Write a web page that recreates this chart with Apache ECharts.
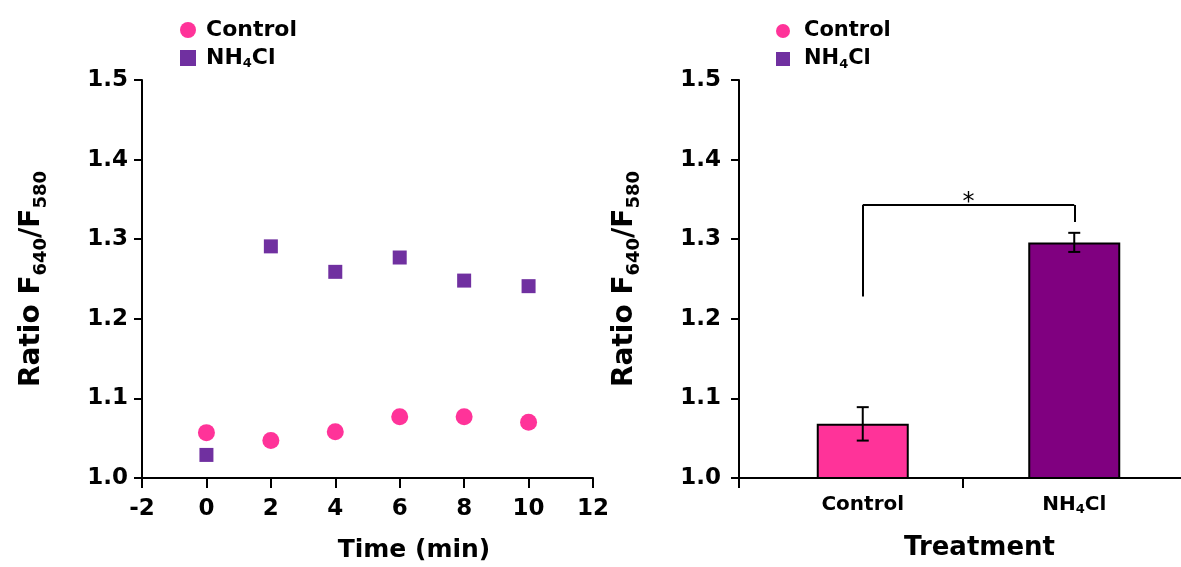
<!DOCTYPE html>
<html>
<head>
<meta charset="utf-8">
<script src="https://cdn.jsdelivr.net/npm/echarts@6/dist/echarts.min.js"></script>
<style>
    html, body { margin: 0; padding: 0; background: #fff; }
    #chart { width: 1181px; height: 567px; }
</style>
</head>
<body>
<div id="chart"></div>
<script>
    // left panel: ratio over time
    var timePoints = [0, 2, 4, 6, 8, 10];
    var controlTime = [1.057, 1.047, 1.058, 1.077, 1.077, 1.070];
    var nh4clTime = [1.029, 1.291, 1.259, 1.277, 1.248, 1.241];
    var xTicks = [-2, 12, 2];   // min, max, step
    var yTicks = [1.0, 1.5, 0.1];

    // right panel: treatment means with error
    var treatments = ['Control', 'NH4Cl'];
    var treatMeans = [1.068, 1.296];
    var treatErr = [0.021, 0.012];
    // significance bracket: left foot, top, right foot
    var bracketY = [1.228, 1.343, 1.3215];

    var FONT = 'DejaVu Sans';
    var PINK = '#FF3399';
    var PURPLE = '#7030A0';
    var BAR_PURPLE = '#800080';

    var yName = 'Ratio F{sub|640}/F{sub|580}';

    function nameFmt(name) {
        return name === 'NH4Cl' ? 'NH{sub|4}Cl' : name;
    }

    function pair(xs, ys) {
        return xs.map(function (x, i) { return [x, ys[i]]; });
    }

    var chart = echarts.init(document.getElementById('chart'));

    var yAxisBase = {
        type: 'value',
        min: yTicks[0],
        max: yTicks[1],
        interval: yTicks[2],
        splitLine: { show: false },
        axisLine: { show: true, onZero: false, lineStyle: { color: '#000', width: 2 } },
        axisTick: { show: true, length: 8, lineStyle: { color: '#000', width: 2 } },
        axisLabel: {
            color: '#000', fontFamily: FONT, fontWeight: 'bold', fontSize: 23,
            formatter: function (v) { return v.toFixed(1); }
        },
        name: yName,
        nameLocation: 'middle',
        nameTextStyle: {
            color: '#000', fontFamily: FONT, fontWeight: 'bold', fontSize: 28,
            rich: {
                sub: { fontFamily: FONT, fontWeight: 'bold', fontSize: 18, color: '#000', verticalAlign: 'bottom', padding: [18, 0, 0, 0] }
            }
        }
    };

    var legendBase = {
        orient: 'vertical',
        itemGap: 4,
        formatter: nameFmt,
        selectedMode: false,
        textStyle: {
            color: '#000', fontFamily: FONT, fontWeight: 'bold', fontSize: 22, lineHeight: 24,
            rich: {
                sub: { fontFamily: FONT, fontWeight: 'bold', fontSize: 13, color: '#000', verticalAlign: 'bottom', padding: [10, 0, 0, 0] }
            }
        }
    };

    var option = {
        animation: false,
        backgroundColor: '#fff',
        legend: [
            Object.assign({}, legendBase, {
                left: 175, top: 13, itemWidth: 16, itemHeight: 16,
                data: [{ name: 'Control', icon: 'circle' }, { name: 'NH4Cl', icon: 'rect' }],
                textStyle: Object.assign({}, legendBase.textStyle, { padding: [0, 0, 0, 5] })
            }),
            Object.assign({}, legendBase, {
                left: 771, top: 14, itemWidth: 14, itemHeight: 14,
                data: [{ name: 'Control', icon: 'circle' }, { name: 'NH4Cl', icon: 'rect' }],
                textStyle: Object.assign({}, legendBase.textStyle, { fontSize: 21, padding: [0, 0, 0, 9] })
            })
        ],
        grid: [
            { left: 142, width: 451, top: 80, bottom: 89, outerBoundsMode: 'none' },
            { left: 739, width: 447, top: 80, bottom: 89, outerBoundsMode: 'none' },
            { left: 757, width: 423, top: 80, bottom: 89, outerBoundsMode: 'none' }
        ],
        xAxis: [
            {
                gridIndex: 0,
                type: 'value',
                min: xTicks[0],
                max: xTicks[1],
                interval: xTicks[2],
                splitLine: { show: false },
                axisLine: { show: true, onZero: false, lineStyle: { color: '#000', width: 2 } },
                axisTick: { show: true, length: 10, lineStyle: { color: '#000', width: 2 } },
                axisLabel: { color: '#000', fontFamily: FONT, fontWeight: 'bold', fontSize: 23, margin: 20 },
                name: 'Time (min)',
                nameLocation: 'middle',
                nameGap: 60,
                nameTextStyle: {
                    color: '#000', fontFamily: FONT, fontWeight: 'bold', fontSize: 25,
                    padding: [0, 0, 0, 93]
                }
            },
            {
                gridIndex: 1,
                type: 'category',
                data: treatments,
                axisLine: { show: true, onZero: false, lineStyle: { color: '#000', width: 2 } },
                axisTick: { show: true, length: 10, lineStyle: { color: '#000', width: 2 } },
                axisLabel: { show: false }
            },
            {
                gridIndex: 2,
                type: 'category',
                data: treatments,
                axisLine: { show: false },
                axisTick: { show: false },
                axisLabel: {
                    color: '#000', fontFamily: FONT, fontWeight: 'bold', fontSize: 20, margin: 16,
                    lineHeight: 22,
                    formatter: nameFmt,
                    rich: {
                        sub: { fontFamily: FONT, fontWeight: 'bold', fontSize: 13, color: '#000', lineHeight: 22, verticalAlign: 'bottom', padding: [6, 0, 0, 0] }
                    }
                },
                name: 'Treatment',
                nameLocation: 'middle',
                nameGap: 57,
                nameTextStyle: {
                    color: '#000', fontFamily: FONT, fontWeight: 'bold', fontSize: 26,
                    padding: [0, 0, 0, 22]
                }
            }
        ],
        yAxis: [
            Object.assign({}, yAxisBase, {
                gridIndex: 0, nameGap: 92,
                axisLabel: Object.assign({}, yAxisBase.axisLabel, { margin: 14 })
            }),
            Object.assign({}, yAxisBase, {
                gridIndex: 1, nameGap: 96,
                axisLabel: Object.assign({}, yAxisBase.axisLabel, { margin: 18 })
            }),
            { gridIndex: 2, type: 'value', min: yTicks[0], max: yTicks[1], show: false, splitLine: { show: false } }
        ],
        series: [
            {
                name: 'Control',
                type: 'scatter',
                xAxisIndex: 0, yAxisIndex: 0,
                symbol: 'circle',
                symbolSize: 17,
                itemStyle: { color: PINK, opacity: 1 },
                data: pair(timePoints, controlTime)
            },
            {
                name: 'NH4Cl',
                type: 'scatter',
                xAxisIndex: 0, yAxisIndex: 0,
                symbol: 'rect',
                symbolSize: 14,
                itemStyle: { color: PURPLE, opacity: 1 },
                data: pair(timePoints, nh4clTime)
            },
            {
                name: 'Control',
                type: 'bar',
                xAxisIndex: 2, yAxisIndex: 2,
                barWidth: 92,
                barGap: '-100%',
                itemStyle: { color: PINK, borderColor: '#000', borderWidth: 2 },
                data: [treatMeans[0], '-']
            },
            {
                name: 'NH4Cl',
                type: 'bar',
                xAxisIndex: 2, yAxisIndex: 2,
                barWidth: 92,
                barGap: '-100%',
                itemStyle: { color: BAR_PURPLE, borderColor: '#000', borderWidth: 2 },
                data: ['-', treatMeans[1]]
            },
            {
                name: 'error',
                type: 'custom',
                xAxisIndex: 2, yAxisIndex: 2,
                z: 5,
                data: treatMeans.map(function (m, i) { return [i, m - treatErr[i], m + treatErr[i]]; }),
                renderItem: function (params, api) {
                    var lo = api.coord([api.value(0), api.value(1)]);
                    var hi = api.coord([api.value(0), api.value(2)]);
                    var w = 6;
                    var style = { stroke: '#000', lineWidth: 2 };
                    return {
                        type: 'group',
                        children: [
                            { type: 'line', shape: { x1: lo[0], y1: lo[1], x2: hi[0], y2: hi[1] }, style: style },
                            { type: 'line', shape: { x1: lo[0] - w, y1: lo[1], x2: lo[0] + w, y2: lo[1] }, style: style },
                            { type: 'line', shape: { x1: hi[0] - w, y1: hi[1], x2: hi[0] + w, y2: hi[1] }, style: style }
                        ]
                    };
                }
            },
            {
                name: 'bracket',
                type: 'line',
                xAxisIndex: 2, yAxisIndex: 2,
                data: [],
                markLine: {
                    silent: true,
                    symbol: ['none', 'none'],
                    lineStyle: { color: '#000', width: 2, type: 'solid' },
                    label: { show: false },
                    data: [
                        [{ coord: [0, bracketY[0]] }, { coord: [0, bracketY[1]] }],
                        [{
                            coord: [0, bracketY[1]],
                            label: {
                                show: true, position: 'middle', formatter: '*', distance: -10,
                                color: '#000', fontFamily: FONT, fontSize: 24
                            }
                        }, { coord: [1, bracketY[1]] }],
                        [{ coord: [1, bracketY[1]] }, { coord: [1, bracketY[2]] }]
                    ]
                }
            }
        ]
    };

    chart.setOption(option);
</script>
</body>
</html>
